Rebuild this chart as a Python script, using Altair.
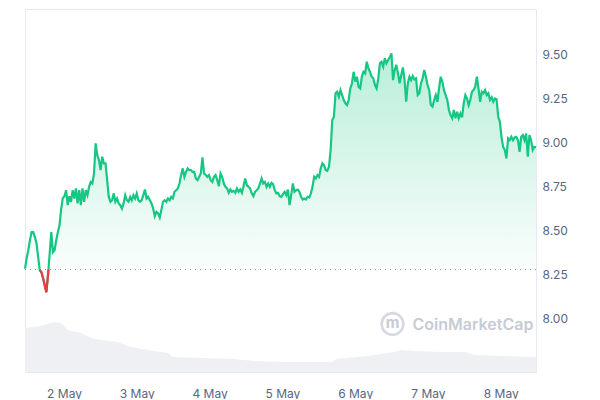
import altair as alt
import pandas as pd

# ---------------- data ----------------
start_time = "2024-05-01T11:08:00"
end_time = "2024-05-08T11:38:00"
baseline = 8.277  # reference (opening) price, dotted line

price = [
    8.282, 8.341, 8.386, 8.443, 8.489, 8.489, 8.462, 8.426, 8.348, 8.273,
    8.261, 8.227, 8.188, 8.148, 8.244, 8.364, 8.489, 8.375, 8.386, 8.443,
    8.489, 8.528, 8.619, 8.682, 8.693, 8.727, 8.642, 8.693,
    8.661, 8.727, 8.680, 8.737, 8.652, 8.727, 8.642, 8.737, 8.661, 8.727,
    8.699, 8.746, 8.774, 8.765, 8.822, 8.993, 8.926, 8.898, 8.841, 8.917,
    8.879, 8.879, 8.784, 8.689, 8.661, 8.670, 8.709, 8.661, 8.680, 8.652,
    8.642, 8.623, 8.652, 8.699, 8.670, 8.661, 8.689, 8.670, 8.699, 8.680,
    8.709, 8.670, 8.661,
    8.670, 8.699, 8.731, 8.680, 8.689, 8.670, 8.652, 8.623, 8.580, 8.604,
    8.595, 8.572, 8.614, 8.661, 8.670, 8.661, 8.680, 8.670, 8.689, 8.680,
    8.718, 8.727, 8.737, 8.765, 8.813, 8.851, 8.803, 8.831, 8.851, 8.841,
    8.841, 8.831, 8.831, 8.794, 8.784, 8.803, 8.822, 8.913, 8.822, 8.813,
    8.803, 8.813, 8.784, 8.774, 8.803, 8.813, 8.784, 8.750, 8.822, 8.803,
    8.765, 8.746, 8.737, 8.712, 8.731, 8.718, 8.723, 8.712, 8.737, 8.718,
    8.731, 8.712, 8.750, 8.794, 8.756, 8.746, 8.737, 8.709, 8.693, 8.718,
    8.727, 8.737, 8.765, 8.794,
    8.765, 8.774, 8.746, 8.765, 8.746, 8.769, 8.761, 8.727, 8.709, 8.712,
    8.693, 8.689, 8.705, 8.718, 8.699, 8.731,
    8.642, 8.699, 8.765, 8.718,
    8.727, 8.731, 8.718, 8.689, 8.674, 8.680, 8.674, 8.689, 8.686, 8.709,
    8.746, 8.803, 8.794, 8.813, 8.803, 8.851, 8.879, 8.869, 8.841, 8.837,
    8.860,
    8.955, 9.125, 9.144, 9.277, 9.286, 9.257,
    9.295, 9.267, 9.239, 9.220, 9.210, 9.239, 9.305, 9.334,
    9.399, 9.343, 9.371, 9.314, 9.305, 9.371, 9.399, 9.390, 9.456, 9.419,
    9.399, 9.371, 9.362, 9.324, 9.305, 9.362, 9.447, 9.456, 9.428, 9.476,
    9.447, 9.466, 9.481, 9.504,
    9.352, 9.409, 9.438, 9.390, 9.334, 9.381, 9.424, 9.352, 9.229, 9.334,
    9.371, 9.352, 9.375, 9.356, 9.362, 9.267, 9.277, 9.334, 9.362, 9.409,
    9.371, 9.324, 9.295, 9.210, 9.201, 9.239, 9.267, 9.229, 9.305, 9.371,
    9.343, 9.295, 9.267, 9.239, 9.182, 9.153, 9.135, 9.182, 9.135, 9.172,
    9.135, 9.163, 9.140, 9.220, 9.267, 9.248, 9.210, 9.239, 9.286, 9.295,
    9.314, 9.371, 9.305, 9.229, 9.286, 9.277, 9.295, 9.267, 9.277, 9.239,
    9.254, 9.229, 9.248, 9.243, 9.144, 9.115, 9.030, 8.973, 8.955, 8.907,
    9.021, 9.011, 9.030, 9.011, 9.027, 9.030, 9.011, 8.945, 9.030, 9.040,
    9.011, 9.049, 8.917, 9.040, 9.011, 8.955, 8.973, 8.970,
]

vol_hours = [0, 5.3, 7.5, 9.7, 11.9, 14.1, 18.5, 21.8, 25.1, 30.6, 33.9, 38.3,
             44.8, 47.1, 48.7, 58.0, 69.0, 75.6, 85.5, 91.0, 100.9, 102.6,
             113.0, 121.8, 124.0, 128.4, 137.2, 144.9, 148.2, 157.0, 168.5]
volume_m = [44, 46, 48, 50, 49, 42, 39, 34, 32, 30, 26, 23,
            20, 19, 15, 14, 13, 11, 10, 10, 10, 13,
            16, 20, 22, 21, 20, 20, 17, 16, 15]

y_ticks = [8.00, 8.25, 8.50, 8.75, 9.00, 9.25, 9.50]
day_labels = [2, 3, 4, 5, 6, 7, 8]

# ---------------- tables ----------------
times = pd.date_range(start_time, end_time, periods=len(price))
pts = list(zip(times, price))

# split the series at baseline crossings so the part below is drawn in red
rows = []
seg = 0
for i, (t, p) in enumerate(pts):
    if i > 0:
        t0, p0 = pts[i - 1]
        if (p0 - baseline) * (p - baseline) < 0:
            f = (baseline - p0) / (p - p0)
            tc = t0 + (t - t0) * f
            rows.append({"t": tc, "p": baseline, "seg": seg})
            seg += 1
    rows.append({"t": t, "p": p, "seg": seg})
df = pd.DataFrame(rows)
df["above"] = df["p"].clip(lower=baseline)
df["below"] = df["p"].clip(upper=baseline)
df["b"] = baseline
df_red = df[df["p"] <= baseline + 1e-9]

vdf = pd.DataFrame({
    "t": pd.Timestamp(start_time) + pd.to_timedelta(vol_hours, unit="h"),
    "v": volume_m,
})

GREEN = "#16c784"
RED = "#ea3943"
GRID = "#eceef2"
LABEL = "#58667e"
FONT = "Inter"

xdom = alt.Scale(domain=[alt.DateTime(year=2024, month=5, date=1, hours=11, minutes=8),
                         alt.DateTime(year=2024, month=5, date=8, hours=11, minutes=38)])
ydom = alt.Scale(domain=[7.6952, 9.7554], nice=False, zero=False)

x_axis = alt.Axis(
    values=[alt.DateTime(year=2024, month=5, date=d) for d in day_labels],
    format="%-d %b", labelFontSize=12, labelColor=LABEL, labelFont=FONT,
    grid=False, ticks=False, domain=False, labelPadding=16, title=None,
)
x_enc = alt.X("t:T", scale=xdom, axis=x_axis)

volume = alt.Chart(vdf).mark_area(color="#eef0f3").encode(
    x=x_enc,
    y=alt.Y("v:Q", scale=alt.Scale(domain=[0, 363]), axis=None),
)

y_axis = alt.Axis(
    orient="right", values=y_ticks, format=".2f", labelFontSize=12,
    labelColor=LABEL, labelFont=FONT, gridColor=GRID, ticks=False,
    domain=False, labelPadding=6, title=None,
)

green_grad = alt.Gradient(
    gradient="linear",
    stops=[alt.GradientStop(color="rgba(22,199,132,0.02)", offset=0),
           alt.GradientStop(color="rgba(22,199,132,0.30)", offset=1)],
    x1=1, x2=1, y1=1, y2=0,
)
red_grad = alt.Gradient(
    gradient="linear",
    stops=[alt.GradientStop(color="rgba(234,57,67,0.02)", offset=0),
           alt.GradientStop(color="rgba(234,57,67,0.12)", offset=1)],
    x1=1, x2=1, y1=0, y2=1,
)

area_g = alt.Chart(df).mark_area(color=green_grad).encode(
    x=x_enc,
    y=alt.Y("above:Q", scale=ydom, axis=y_axis),
    y2="b:Q",
)
area_r = alt.Chart(df).mark_area(color=red_grad).encode(
    x=x_enc, y=alt.Y("below:Q", scale=ydom), y2="b:Q",
)
rule = alt.Chart(pd.DataFrame({"b": [baseline]})).mark_rule(
    color="#8a93a6", strokeDash=[1, 4], strokeWidth=1.2
).encode(y=alt.Y("b:Q", scale=ydom))
line_g = alt.Chart(df).mark_line(color=GREEN, strokeWidth=2.2).encode(
    x=x_enc, y=alt.Y("p:Q", scale=ydom),
)
line_r = alt.Chart(df_red).mark_line(color=RED, strokeWidth=2.2).encode(
    x=x_enc, y=alt.Y("p:Q", scale=ydom), detail="seg:N",
)

wm = pd.DataFrame({"a": [0]})
logo_ring = alt.Chart(wm).mark_point(
    shape="circle", filled=False, color="#c6cbd4", strokeWidth=2.6, size=470
).encode(x=alt.value(367.5), y=alt.value(315))
logo_m = alt.Chart(wm).mark_text(
    text="m", font=FONT, fontSize=15, fontWeight=700, color="#c6cbd4",
    align="center", baseline="middle",
).encode(x=alt.value(367.5), y=alt.value(314))
logo_txt = alt.Chart(wm).mark_text(
    text="CoinMarketCap", font=FONT, fontSize=16, fontWeight=600,
    color="#c6cbd4", align="left", baseline="middle",
).encode(x=alt.value(387.5), y=alt.value(316))

price_layers = alt.layer(area_g, area_r, rule, line_g, line_r, logo_ring, logo_m, logo_txt)

chart = alt.layer(volume, price_layers).resolve_scale(y="independent").properties(
    width=511, height=363,
    padding={"left": 12, "top": 1, "right": 5, "bottom": 0},
    background="white",
).configure_view(stroke="#e6e9ee").configure_axis(gridColor=GRID)

chart.save("out.html", embed_options={"renderer": "svg", "actions": False})
